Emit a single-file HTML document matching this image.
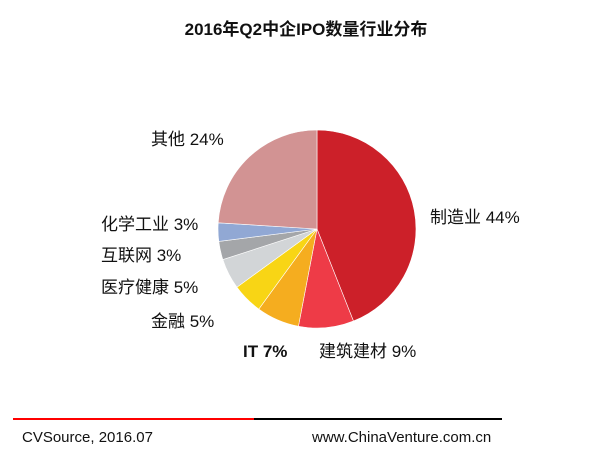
<!DOCTYPE html>
<html><head><meta charset="utf-8"><style>
body{margin:0;width:610px;height:463px;background:#fff;position:relative;overflow:hidden;font-family:"Liberation Sans","Noto Sans CJK SC",sans-serif;}
.t{position:absolute;font-size:17px;color:#111;white-space:nowrap;line-height:1;}
</style></head><body>
<div class="t" style="left:0;width:612px;text-align:center;top:21px;font-weight:bold;font-size:17px;">2016年Q2中企IPO数量行业分布</div>
<svg id="s" width="610" height="463" style="position:absolute;left:0;top:0"></svg>
<div class="t" style="left:151px;top:131px">其他 24%</div>
<div class="t" style="left:430px;top:209px">制造业 44%</div>
<div class="t" style="left:101px;top:216px">化学工业 3%</div>
<div class="t" style="left:101px;top:247px">互联网 3%</div>
<div class="t" style="left:101px;top:279px">医疗健康 5%</div>
<div class="t" style="left:151px;top:313px">金融 5%</div>
<div class="t" style="left:243px;top:343px;font-weight:bold">IT 7%</div>
<div class="t" style="left:319px;top:343px">建筑建材 9%</div>
<div style="position:absolute;left:13px;top:418px;width:241px;height:2px;background:#f00"></div>
<div style="position:absolute;left:254px;top:418px;width:248px;height:2px;background:#000"></div>
<div class="t" style="left:22px;top:430px;font-size:15px">CVSource, 2016.07</div>
<div class="t" style="left:312px;top:430px;font-size:15px">www.ChinaVenture.com.cn</div>
<script>
var d=[[44,"#cc2029"],[9,"#ee3b47"],[7,"#f5ad1f"],[5,"#f8d515"],[5,"#d2d5d7"],[3,"#a4a6a9"],[3,"#91a8d4"],[24,"#d29393"]];
var cx=317,cy=229,r=99,a=0,h="";
d.forEach(function(s){var a0=a/100*2*Math.PI;a+=s[0];var a1=a/100*2*Math.PI;
var x0=cx+r*Math.sin(a0),y0=cy-r*Math.cos(a0),x1=cx+r*Math.sin(a1),y1=cy-r*Math.cos(a1);
h+='<path d="M'+cx+','+cy+'L'+x0+','+y0+'A'+r+','+r+' 0 '+(s[0]>50?1:0)+' 1 '+x1+','+y1+'Z" fill="'+s[1]+'" stroke="#fff" stroke-width="0.6"/>';});
document.getElementById("s").innerHTML=h;
</script>
</body></html>
